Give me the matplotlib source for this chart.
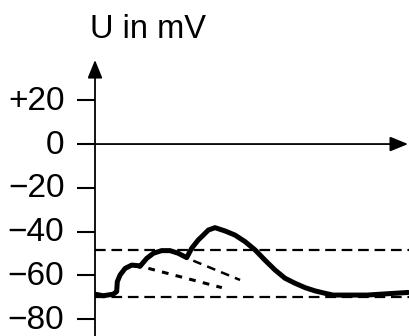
import matplotlib
matplotlib.use("Agg")
import matplotlib.pyplot as plt
from matplotlib.transforms import ScaledTranslation

plt.rcParams["font.family"] = ["Liberation Sans", "DejaVu Sans"]

# membrane potential trace (time in arbitrary units, U in mV)
t = [0, 2.6, 5.8, 6.9, 7.1, 8.0, 9.6, 11.7, 13.8, 14.3, 16.5, 18.6, 21.2,
     23.9, 26.5, 29.2, 30.8, 32.9, 34.0, 36.1, 38.2, 41.4, 44.6, 47.8, 51.0,
     54.1, 57.3, 60.5, 63.7, 66.9, 70.1, 73.3, 75.8, 86.6, 99.7]
u = [-68.6, -69.3, -68.6, -67.4, -62.9, -59.8, -56.8, -55.3, -55.6, -55.9,
     -52.2, -49.9, -48.7, -48.7, -49.9, -51.9, -47.6, -43.8, -42.3, -39.3,
     -38.2, -39.7, -41.6, -44.6, -48.4, -53.0, -57.5, -61.3, -63.6, -65.6,
     -67.1, -68.2, -69.0, -69.0, -67.8]

# extrapolated decays (dotted)
decay1_t = [17.0, 40.4]
decay1_u = [-56.8, -65.6]
decay2_t = [31.3, 46.2]
decay2_u = [-53.3, -62.1]

threshold = -48.4
rest = -69.9

yticks = [20, 0, -20, -40, -60, -80]
ylabels = ["+20", "0", "\u221220", "\u221240", "\u221260", "\u221280"]

fig = plt.figure(figsize=(4.09, 3.36), dpi=100)
ax = fig.add_axes([95 / 409, 0, 314 / 409, 276 / 336])
ax.set_xlim(0, 100)
ax.set_ylim(-87.7, 38.4)
for s in ax.spines.values():
    s.set_visible(False)
ax.set_xticks([])
ax.set_yticks(yticks)
ax.set_yticklabels(ylabels, fontsize=24)
ax.tick_params(axis="y", length=13, width=1.5, pad=9, direction="out")
shift = ScaledTranslation(0, 2.5 / 100, fig.dpi_scale_trans)
for tk in ax.yaxis.get_major_ticks():
    tk.label1.set_transform(tk.label1.get_transform() + shift)

# axes with arrows
ax.annotate("", xy=(0, 1), xytext=(0, 0), xycoords="axes fraction",
            arrowprops=dict(arrowstyle="-|>,head_length=1.1,head_width=0.45",
                            lw=1.3, color="black", shrinkA=0, shrinkB=0),
            annotation_clip=False)
ax.annotate("", xy=(99.7, 0), xytext=(0, 0),
            arrowprops=dict(arrowstyle="-|>,head_length=1.1,head_width=0.45",
                            lw=1.3, color="black", shrinkA=0, shrinkB=0),
            annotation_clip=False)

ax.axhline(threshold, color="black", lw=1.6, ls=(0, (4.8, 2.6)))
ax.axhline(rest, color="black", lw=1.6, ls=(0, (4.8, 2.6)))

ax.plot(decay1_t, decay1_u, color="black", lw=2.2, ls=(0, (2.2, 2.4)))
ax.plot(decay2_t, decay2_u, color="black", lw=1.8, ls=(0, (3.5, 2.5)))

ax.plot(t, u, color="black", lw=3.6, solid_joinstyle="round", solid_capstyle="round")

fig.text(90 / 409, 1 - 38 / 336, "U in mV", fontsize=23.5, va="baseline", ha="left")

fig.savefig("out.png", dpi=100)
